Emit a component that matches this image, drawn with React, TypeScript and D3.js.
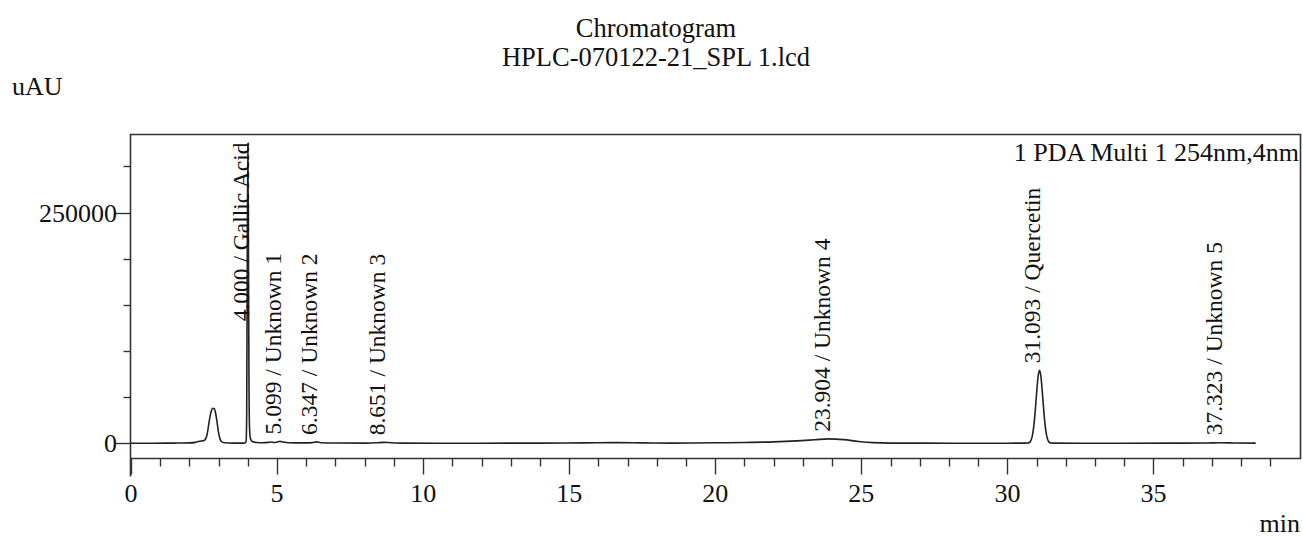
import React, { useEffect, useRef } from "react";
import * as d3 from "d3";

// Chromatogram trace (time in min, signal in uAU)
const traceTime = [
  0, 0.8, 1.5, 2.0, 2.2, 2.35, 2.45, 2.5, 2.55, 2.6, 2.65, 2.7, 2.75, 2.8, 2.85, 2.9, 2.95, 3.0, 3.05, 3.1, 3.2, 3.5,
  3.85, 3.9, 3.94, 3.96, 3.98, 4.0, 4.02, 4.04, 4.06, 4.09, 4.15, 4.3, 4.5, 4.7, 4.8, 4.9, 5.0, 5.1, 5.2, 5.4,
  6.0, 6.2, 6.35, 6.5, 7.0, 8.0, 8.4, 8.65, 8.9, 9.3, 10.5, 12.0, 14.0, 15.5, 16.5, 17.5, 18.5, 20.0, 21.0, 22.0,
  22.8, 23.4, 23.9, 24.4, 24.9, 25.4, 26.0, 28.0, 30.0, 30.6, 30.7, 30.75, 30.8, 30.85, 30.9, 30.95, 31.0, 31.05,
  31.1, 31.15, 31.2, 31.25, 31.3, 31.35, 31.4, 31.45, 31.5, 31.6, 32.5, 34.0, 36.0, 36.8, 37.3, 37.8, 38.5,
];
const traceUAU = [
  0, 100, 200, 400, 1000, 2200, 2600, 3000, 4500, 9000, 18000, 28000, 35000, 38000, 37500, 32000, 22000, 11000, 4500, 1800, 600, 200,
  200, 300, 2000, 30000, 200000, 325000, 210000, 60000, 15000, 5000, 2000, 800, 600, 1000, 1400, 800, 1300, 2000, 1300, 500,
  400, 700, 1500, 600, 300, 200, 500, 1000, 600, 200, 100, 100, 200, 400, 700, 400, 200, 500, 900, 1500,
  2600, 3800, 4800, 3900, 2000, 700, 200, 100, 100, 150, 300, 800, 2600, 7400, 17400, 33700, 54000, 72000,
  79000, 72000, 54000, 33700, 17400, 7400, 2600, 800, 300, 150, 100, 100, 200, 300, 500, 300, 200,
];

const peakTimes = [4.0, 5.099, 6.347, 8.651, 23.904, 31.093, 37.323];
const peakNames = ["Gallic Acid", "Unknown 1", "Unknown 2", "Unknown 3", "Unknown 4", "Quercetin", "Unknown 5"];

const xMajorTicks = [0, 5, 10, 15, 20, 25, 30, 35];
const yMajorTicks = [0, 250000];
const yMinorTicks = [50000, 100000, 150000, 200000, 300000];

const titleLines = ["Chromatogram", "HPLC-070122-21_SPL 1.lcd"];
const legendText = "1 PDA Multi 1 254nm,4nm";

const W = 1303;
const H = 537;
const FONT = "'Liberation Serif', 'Times New Roman', serif";

export default function App() {
  const ref = useRef<SVGSVGElement | null>(null);

  useEffect(() => {
    const svg = d3.select(ref.current);
    svg.selectAll("*").remove();

    const left = 130.5, right = 1300.5, top = 134.5, bottom = 458.5;
    const x = d3.scaleLinear().domain([0, 40]).range([131, 1299.5]);
    const y = d3.scaleLinear().domain([-16500, 334500]).range([bottom, top]);
    const ink = "#333";
    const txtInk = "#111";

    // titles
    svg.append("text").attr("x", 656).attr("y", 37).attr("text-anchor", "middle")
      .attr("font-family", FONT).attr("font-size", 26.5).attr("fill", txtInk).text(titleLines[0]);
    svg.append("text").attr("x", 656).attr("y", 66).attr("text-anchor", "middle")
      .attr("font-family", FONT).attr("font-size", 26.5).attr("fill", txtInk).text(titleLines[1]);
    svg.append("text").attr("x", 12).attr("y", 95)
      .attr("font-family", FONT).attr("font-size", 26).attr("fill", txtInk).text("uAU");
    svg.append("text").attr("x", 1300).attr("y", 532).attr("text-anchor", "end")
      .attr("font-family", FONT).attr("font-size", 26).attr("fill", txtInk).text("min");

    // frame
    svg.append("path")
      .attr("d", `M${left},${bottom + 18}V${top}H${right}V${bottom}H${left}`)
      .attr("fill", "none").attr("stroke", ink).attr("stroke-width", 1.6);

    // x ticks
    const minorX = d3.range(1, 40).filter((t) => t % 5 !== 0);
    svg.append("g").selectAll("line").data(minorX).join("line")
      .attr("x1", (d) => Math.round(x(d)) + 0.5).attr("x2", (d) => Math.round(x(d)) + 0.5)
      .attr("y1", bottom).attr("y2", bottom + 8).attr("stroke", ink).attr("stroke-width", 1.4);
    svg.append("g").selectAll("line").data(xMajorTicks).join("line")
      .attr("x1", (d) => Math.round(x(d)) + 0.5).attr("x2", (d) => Math.round(x(d)) + 0.5)
      .attr("y1", bottom).attr("y2", bottom + 16).attr("stroke", ink).attr("stroke-width", 1.4);
    svg.append("g").selectAll("text").data(xMajorTicks).join("text")
      .attr("x", (d) => x(d)).attr("y", 502).attr("text-anchor", "middle")
      .attr("font-family", FONT).attr("font-size", 26).attr("fill", txtInk).text((d) => String(d));

    // y ticks
    svg.append("g").selectAll("line").data(yMinorTicks).join("line")
      .attr("x1", left - 7).attr("x2", left).attr("y1", (d) => Math.round(y(d)) + 0.5).attr("y2", (d) => Math.round(y(d)) + 0.5)
      .attr("stroke", ink).attr("stroke-width", 1.4);
    svg.append("g").selectAll("line").data(yMajorTicks).join("line")
      .attr("x1", left - 15).attr("x2", left).attr("y1", (d) => Math.round(y(d)) + 0.5).attr("y2", (d) => Math.round(y(d)) + 0.5)
      .attr("stroke", ink).attr("stroke-width", 1.4);
    svg.append("g").selectAll("text").data(yMajorTicks).join("text")
      .attr("x", 117).attr("y", (d) => y(d) + 9).attr("text-anchor", "end")
      .attr("font-family", FONT).attr("font-size", 26).attr("fill", txtInk).text((d) => String(d));

    // legend
    svg.append("text").attr("x", 1299).attr("y", 161).attr("text-anchor", "end")
      .attr("font-family", FONT).attr("font-size", 26).attr("fill", txtInk).text(legendText);

    // trace
    svg.append("clipPath").attr("id", "plotclip").append("rect")
      .attr("x", left).attr("y", top).attr("width", right - left).attr("height", bottom - top);
    const pts = traceTime.map((t, i) => [t, traceUAU[i]] as [number, number]);
    const line = d3.line<[number, number]>().x((d) => x(d[0])).y((d) => y(d[1])).curve(d3.curveMonotoneX);
    svg.append("path").attr("d", line(pts) || "").attr("clip-path", "url(#plotclip)")
      .attr("fill", "none").attr("stroke", "#222").attr("stroke-width", 1.6);

    // peak labels
    peakTimes.forEach((t, i) => {
      const near = pts.filter((p) => Math.abs(p[0] - t) <= 0.15);
      const peakVal = d3.max(near, (p) => p[1]) ?? 0;
      const px = x(t) + 1;
      const txt = svg.append("text")
        .attr("font-family", FONT).attr("font-size", 23.5).attr("fill", txtInk)
        .text(`${t.toFixed(3)} / ${peakNames[i]}`);
      const len = (txt.node() as SVGTextElement).getComputedTextLength();
      let startY = Math.min(y(peakVal) - 7, y(0) - 8);
      if (startY - len < top + 8) startY = top + 8 + len;
      txt.attr("transform", `translate(${px},${startY}) rotate(-90)`);
    });
  }, []);

  return (
    <svg ref={ref} width={W} height={H}
      style={{ position: "absolute", left: 0, top: 0, background: "#fff" }} />
  );
}
